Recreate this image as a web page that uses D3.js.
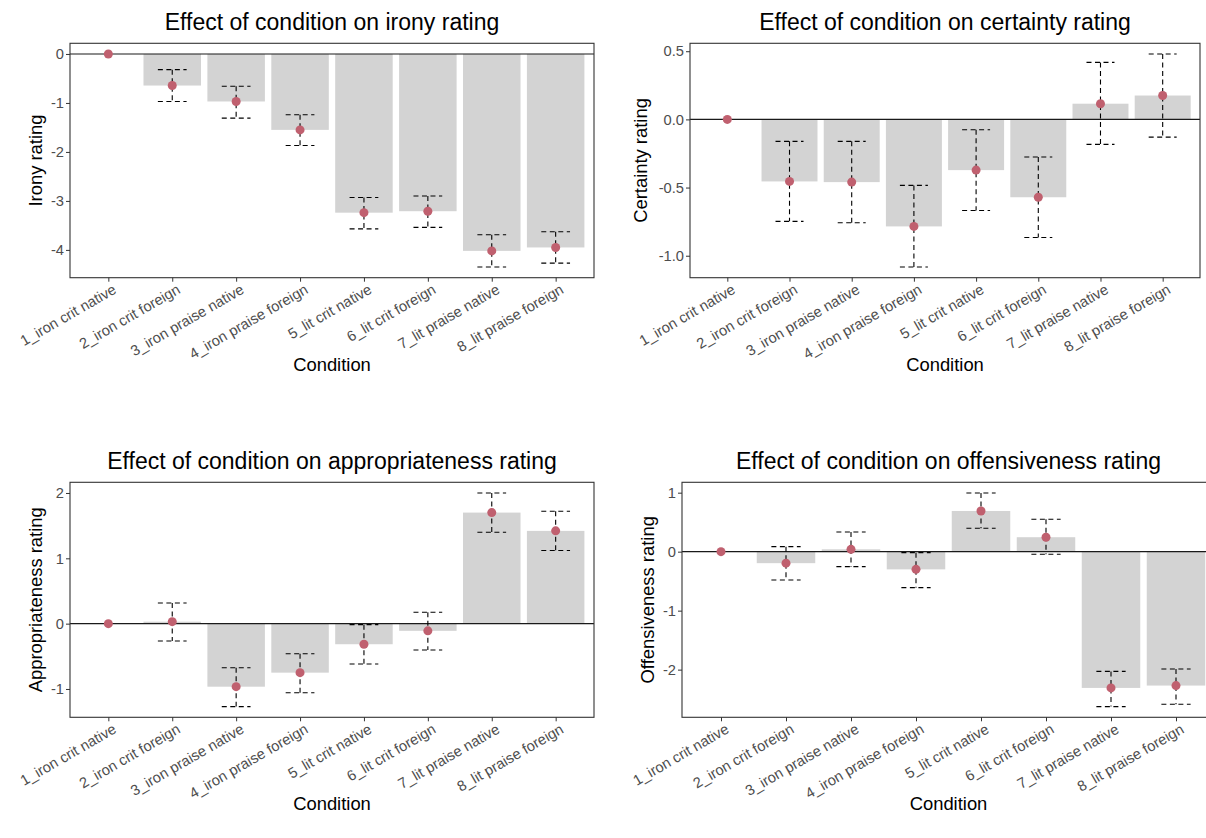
<!DOCTYPE html>
<html>
<head>
<meta charset="utf-8">
<script src="https://cdn.jsdelivr.net/npm/d3@7"></script>
<style>
  body { margin: 0; background: #fff; }
  text { font-family: "Liberation Sans", Arial, sans-serif; }
</style>
</head>
<body>
<div id="chart"></div>
<script>
// categories shared by the four panels
var conditions = ["1_iron crit native", "2_iron crit foreign", "3_iron praise native", "4_iron praise foreign",
                  "5_lit crit native", "6_lit crit foreign", "7_lit praise native", "8_lit praise foreign"];

// estimates and interval ends
var ironyEst  = [0, -0.645, -0.97, -1.55, -3.24, -3.21, -4.02, -3.95];
var ironyHigh = [0, -0.32, -0.66, -1.24, -2.93, -2.90, -3.69, -3.63];
var ironyLow  = [0, -0.97, -1.31, -1.87, -3.57, -3.54, -4.35, -4.27];

var certEst  = [0, -0.455, -0.46, -0.785, -0.372, -0.571, 0.115, 0.175];
var certHigh = [0, -0.161, -0.161, -0.484, -0.076, -0.276, 0.418, 0.48];
var certLow  = [0, -0.748, -0.758, -1.083, -0.668, -0.866, -0.183, -0.13];

var apprEst  = [0, 0.03, -0.965, -0.75, -0.315, -0.11, 1.70, 1.42];
var apprHigh = [0, 0.317, -0.674, -0.46, -0.015, 0.174, 2.0, 1.72];
var apprLow  = [0, -0.265, -1.27, -1.057, -0.617, -0.403, 1.40, 1.12];

var offEst  = [0, -0.195, 0.04, -0.30, 0.69, 0.245, -2.31, -2.27];
var offHigh = [0, 0.085, 0.334, -0.017, 0.995, 0.549, -2.03, -1.99];
var offLow  = [0, -0.48, -0.254, -0.61, 0.397, -0.045, -2.627, -2.587];

// tick labels per panel
var ironyTicks = [0, -1, -2, -3, -4];
var certTicks = [0.5, 0.0, -0.5, -1.0];
var apprTicks = [2, 1, 0, -1];
var offTicks = [1, 0, -1, -2];

var W = 1206, H = 838;

var svg = d3.select("#chart").append("svg")
  .attr("width", W).attr("height", H);

// R prints a plain hyphen as minus sign
function hyph(f) {
  return function(v) { return f(v).replace("\u2212", "-"); };
}

var panels = [
  {title: "Effect of condition on irony rating", ylab: "Irony rating",
   est: ironyEst, hi: ironyHigh, lo: ironyLow, ticks: ironyTicks, fmt: hyph(d3.format("d")),
   x0: 70, x1: 594, y0: 43.3, y1: 277.7, ylabX: 41.7},
  {title: "Effect of condition on certainty rating", ylab: "Certainty rating",
   est: certEst, hi: certHigh, lo: certLow, ticks: certTicks, fmt: hyph(d3.format(".1f")),
   x0: 690, x1: 1200, y0: 43.3, y1: 277.7, ylabX: 646.5},
  {title: "Effect of condition on appropriateness rating", ylab: "Appropriateness rating",
   est: apprEst, hi: apprHigh, lo: apprLow, ticks: apprTicks, fmt: hyph(d3.format("d")),
   x0: 70, x1: 594, y0: 482.3, y1: 717.3, ylabX: 41.7},
  {title: "Effect of condition on offensiveness rating", ylab: "Offensiveness rating",
   est: offEst, hi: offHigh, lo: offLow, ticks: offTicks, fmt: hyph(d3.format("d")),
   x0: 682, x1: 1215, y0: 482.3, y1: 717.3, ylabX: 653.5}
];

var pointCol = "#c0606f";

panels.forEach(function(p) {
  var data = conditions.map(function(c, i) {
    return {cond: c, est: p.est[i], hi: p.hi[i], lo: p.lo[i]};
  });

  // x: discrete scale with ggplot's 0.6 expansion
  var x = d3.scalePoint().domain(conditions).range([p.x0, p.x1]).padding(0.6);
  var step = x.step();

  // y: range of data (incl. 0) expanded 5%
  var ext = d3.extent([0].concat(p.hi, p.lo, p.est));
  var pad = (ext[1] - ext[0]) * 0.05;
  var y = d3.scaleLinear().domain([ext[0] - pad, ext[1] + pad]).range([p.y1, p.y0]);

  var g = svg.append("g");

  // bars
  g.selectAll(".bar").data(data).enter().append("rect")
    .attr("x", d => x(d.cond) - step * 0.45)
    .attr("width", step * 0.9)
    .attr("y", d => y(Math.max(0, d.est)))
    .attr("height", d => Math.abs(y(d.est) - y(0)))
    .attr("fill", "#d3d3d3");

  // zero line
  g.append("line")
    .attr("x1", p.x0).attr("x2", p.x1)
    .attr("y1", y(0)).attr("y2", y(0))
    .attr("stroke", "#1a1a1a").attr("stroke-width", 1.1);

  // error bars, dashed
  var eb = g.selectAll(".eb").data(data.slice(1)).enter().append("g")
    .attr("stroke", "#000").attr("stroke-width", 1.1)
    .attr("stroke-dasharray", "5,3.5").attr("fill", "none");
  var cap = step * 0.225;
  eb.append("line")
    .attr("x1", d => x(d.cond)).attr("x2", d => x(d.cond))
    .attr("y1", d => y(d.hi)).attr("y2", d => y(d.lo));
  eb.append("line")
    .attr("x1", d => x(d.cond) - cap).attr("x2", d => x(d.cond) + cap)
    .attr("y1", d => y(d.hi)).attr("y2", d => y(d.hi));
  eb.append("line")
    .attr("x1", d => x(d.cond) - cap).attr("x2", d => x(d.cond) + cap)
    .attr("y1", d => y(d.lo)).attr("y2", d => y(d.lo));

  // points
  g.selectAll(".pt").data(data).enter().append("circle")
    .attr("cx", d => x(d.cond)).attr("cy", d => y(d.est))
    .attr("r", 4.5).attr("fill", pointCol);

  // panel border
  g.append("rect")
    .attr("x", p.x0).attr("y", p.y0)
    .attr("width", p.x1 - p.x0).attr("height", p.y1 - p.y0)
    .attr("fill", "none").attr("stroke", "#333").attr("stroke-width", 1.1);

  // y axis
  var ya = g.append("g")
    .attr("transform", "translate(" + p.x0 + ",0)")
    .call(d3.axisLeft(y).tickValues(p.ticks).tickFormat(p.fmt).tickSize(4).tickPadding(2));
  ya.select(".domain").remove();
  ya.selectAll("line").attr("stroke", "#333");
  ya.selectAll("text")
    .style("font-size", "14.7px")
    .style("font-family", "'Liberation Sans', Arial, sans-serif")
    .attr("fill", "#4d4d4d");

  // x axis
  var xa = g.append("g")
    .attr("transform", "translate(0," + p.y1 + ")")
    .call(d3.axisBottom(x).tickSize(4).tickSizeOuter(0));
  xa.select(".domain").remove();
  xa.selectAll("line").attr("stroke", "#333");
  xa.selectAll("text")
    .style("font-size", "14.7px")
    .style("font-family", "'Liberation Sans', Arial, sans-serif")
    .attr("fill", "#4d4d4d")
    .attr("text-anchor", "end")
    .attr("dy", "0.75em")
    .attr("y", 6)
    .attr("transform", "rotate(-30)");

  // titles
  g.append("text")
    .attr("x", (p.x0 + p.x1) / 2).attr("y", p.y0 - 13.5)
    .attr("text-anchor", "middle")
    .style("font-size", "23px")
    .attr("fill", "#000")
    .text(p.title);

  g.append("text")
    .attr("x", (p.x0 + p.x1) / 2).attr("y", p.y1 + 93)
    .attr("text-anchor", "middle")
    .style("font-size", "18.4px")
    .attr("fill", "#000")
    .text("Condition");

  g.append("text")
    .attr("transform", "translate(" + p.ylabX + "," + (p.y0 + p.y1) / 2 + ") rotate(-90)")
    .attr("text-anchor", "middle")
    .style("font-size", "18.4px")
    .attr("fill", "#000")
    .text(p.ylab);
});
</script>
</body>
</html>
